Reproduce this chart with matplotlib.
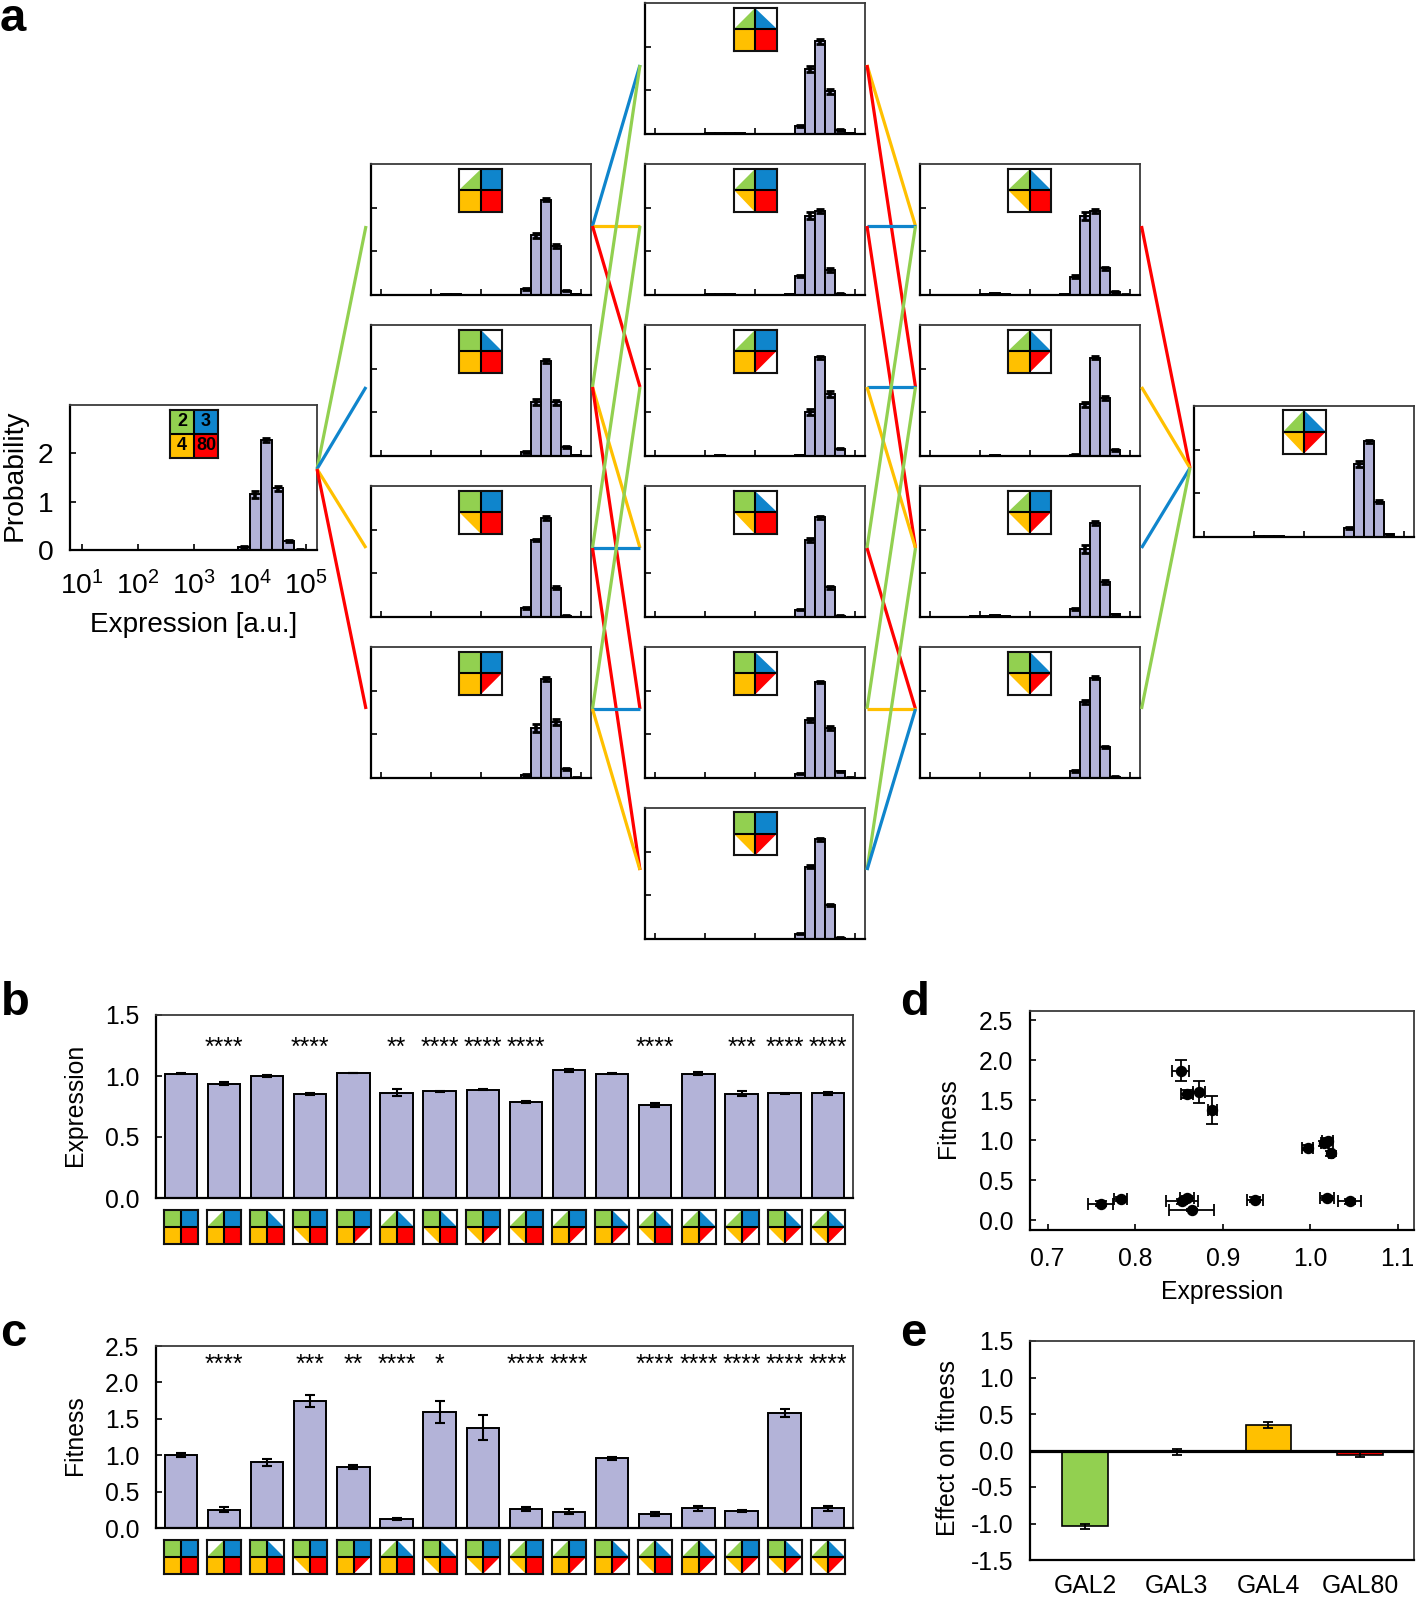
import matplotlib
matplotlib.use('Agg')
import matplotlib.pyplot as plt
from matplotlib.lines import Line2D
from matplotlib.patches import Polygon
import numpy as np

plt.rcParams['font.family'] = ['Liberation Sans', 'DejaVu Sans']
plt.rcParams['mathtext.default'] = 'regular'

W, H = 1418, 1598
GREEN, BLUE, YELLOW, RED = '#92D050', '#0F85CC', '#FFC000', '#FF0000'
BAR = '#B3B3D8'
FS = 17.8

# ---------- data ----------
BIN_CENTRES = [1.9, 2.1, 2.3, 2.5, 2.7, 2.9, 3.7, 3.9, 4.1, 4.3, 4.5, 4.7, 4.9]

h_wt  = [0, .003, .005, .005, .003, 0, 0, .06, 1.15, 2.27, 1.27, .19, .01]
e_wt  = [0, 0, 0, 0, 0, 0, 0, .015, .07, .04, .05, .02, .005]

h_c1 = [
    [0, .005, .015, .02, .01, .003, .01, .14, 1.37, 2.18, 1.12, .10, .015],
    [.003, .01, .01, .01, .005, .003, .003, .09, 1.23, 2.17, 1.23, .20, .015],
    [.003, .005, .005, .003, 0, 0, 0, .20, 1.76, 2.27, .67, .03, 0],
    [.003, .005, .005, .005, .003, 0, 0, .07, 1.14, 2.27, 1.28, .20, .01],
]
e_c1 = [
    [0, 0, 0, 0, 0, 0, 0, .02, .06, .03, .05, .015, .005],
    [0, 0, 0, 0, 0, 0, 0, .015, .07, .05, .06, .02, .005],
    [0, 0, 0, 0, 0, 0, 0, .02, .03, .04, .03, .01, 0],
    [0, 0, 0, 0, 0, 0, 0, .015, .09, .04, .07, .025, .005],
]
h_c2 = [
    [.01, .02, .03, .03, .012, .005, .01, .19, 1.48, 2.12, .98, .09, .02],
    [.01, .02, .025, .02, .01, .003, .03, .43, 1.82, 1.92, .57, .03, .005],
    [.005, .01, .015, .01, .005, 0, 0, .02, 1.01, 2.26, 1.41, .17, .01],
    [.003, .005, .005, .003, 0, 0, 0, .17, 1.76, 2.28, .68, .03, .003],
    [.003, .005, .005, .003, 0, 0, 0, .10, 1.33, 2.20, 1.15, .15, .01],
    [.003, .005, .005, .003, 0, 0, 0, .125, 1.66, 2.28, .78, .03, .003],
]
e_c2 = [
    [0, 0, 0, 0, 0, 0, 0, .025, .07, .05, .06, .02, .005],
    [0, 0, 0, 0, 0, 0, 0, .02, .07, .04, .04, .01, 0],
    [0, 0, 0, 0, 0, 0, 0, .01, .07, .03, .07, .02, 0],
    [0, 0, 0, 0, 0, 0, 0, .02, .04, .04, .03, .01, 0],
    [0, 0, 0, 0, 0, 0, 0, .015, .05, .03, .05, .02, .005],
    [0, 0, 0, 0, 0, 0, 0, .015, .03, .03, .03, .01, 0],
]
h_c3 = [
    [.01, .03, .04, .03, .01, .005, .02, .42, 1.80, 1.92, .61, .07, .01],
    [.005, .01, .015, .01, .005, 0, .003, .03, 1.18, 2.25, 1.33, .13, .005],
    [.02, .03, .05, .03, .01, .005, .005, .18, 1.56, 2.15, .80, .06, .005],
    [.003, .005, .005, .005, .003, 0, 0, .16, 1.74, 2.30, .71, .03, .003],
]
e_c3 = [
    [0, 0, 0, 0, 0, 0, 0, .03, .09, .05, .04, .02, .005],
    [0, 0, 0, 0, 0, 0, 0, .01, .06, .04, .05, .02, 0],
    [0, 0, 0, 0, 0, 0, 0, .03, .09, .05, .05, .015, .005],
    [0, 0, 0, 0, 0, 0, 0, .02, .04, .04, .03, .01, 0],
]
h_last = [.01, .015, .02, .015, .01, 0, .005, .20, 1.67, 2.19, .81, .07, .005]
e_last = [0, 0, 0, 0, 0, 0, 0, .02, .06, .04, .03, .01, 0]

# Which quadrants of the icon are half filled: 0=GAL2, 1=GAL3, 2=GAL4, 3=GAL80
icons_c1 = [[0], [1], [2], [3]]
icons_c2 = [[0, 1], [0, 2], [0, 3], [1, 2], [1, 3], [2, 3]]
icons_c3 = [[0, 1, 2], [0, 1, 3], [0, 2, 3], [1, 2, 3]]
icons_last = [0, 1, 2, 3]
icons_bars = [[], [0], [1], [2], [3], [0, 1], [1, 2], [2, 3], [0, 2], [0, 3], [1, 3],
              [0, 1, 2], [0, 1, 3], [0, 2, 3], [1, 2, 3], [0, 1, 2, 3]]

edges_wt_c1 = [(0, GREEN), (1, BLUE), (2, YELLOW), (3, RED)]
edges_c1_c2 = [(0, 0, BLUE), (0, 1, YELLOW), (0, 2, RED),
               (1, 0, GREEN), (1, 3, YELLOW), (1, 4, RED),
               (2, 1, GREEN), (2, 3, BLUE), (2, 5, RED),
               (3, 2, GREEN), (3, 4, BLUE), (3, 5, YELLOW)]
edges_c2_c3 = [(0, 0, YELLOW), (0, 1, RED), (1, 0, BLUE), (1, 2, RED),
               (2, 1, BLUE), (2, 2, YELLOW), (3, 0, GREEN), (3, 3, RED),
               (4, 1, GREEN), (4, 3, YELLOW), (5, 2, GREEN), (5, 3, BLUE)]
edges_c3_last = [(0, RED), (1, YELLOW), (2, BLUE), (3, GREEN)]

expr_vals = [1.02, .938, .998, .854, 1.025, .864, .873, .889, .783, 1.047, 1.017, .761, 1.02, .854, .859, .859]
expr_errs = [.005, .01, .008, .01, .003, .03, .008, .004, .008, .012, .004, .016, .01, .02, .004, .012]
expr_stars = ['', '****', '', '****', '', '**', '****', '****', '****', '', '', '****', '', '***', '****', '****']

fit_vals = [1.0, .25, .90, 1.745, .835, .12, 1.594, 1.38, .26, .223, .956, .196, .27, .228, 1.58, .273]
fit_errs = [.025, .035, .05, .08, .03, .012, .145, .17, .03, .035, .025, .03, .03, .015, .055, .035]
fit_stars = ['', '****', '', '***', '**', '****', '*', '', '****', '****', '', '****', '****', '****', '****', '****']

d_x    = [.852, .873, .859, .888, .997, 1.02, 1.016, 1.024, .7606, .7834, .8535, .859, .8646, .9373, 1.0196, 1.045]
d_xerr = [.0095, .0067, .007, .005, .0067, .006, .004, .002, .014, .0075, .018, .008, .0255, .009, .008, .0127]
d_y    = [1.867, 1.6, 1.58, 1.38, .904, .99, .96, .833, .204, .2625, .233, .275, .125, .254, .275, .233]
d_yerr = [.135, .14, .05, .175, .03, .03, .03, .03, .03, .03, .03, .03, .012, .03, .03, .03]

genes = ['GAL2', 'GAL3', 'GAL4', 'GAL80']
effect_vals = [-1.04, -.02, .35, -.055]
effect_errs = [.04, .035, .035, .03]
effect_cols = [GREEN, BLUE, YELLOW, RED]

# ---------- helpers ----------
fig = plt.figure(figsize=(W / 100, H / 100), dpi=100, facecolor='white')


def axes_px(x0, y0, x1, y1, **kw):
    return fig.add_axes([x0 / W, 1 - y1 / H, (x1 - x0) / W, (y1 - y0) / H], **kw)


def style(ax, lw=1.6):
    for s in ax.spines.values():
        s.set_linewidth(1.3)
        s.set_edgecolor('#3a3a3a')
    for s in ('left', 'bottom'):
        ax.spines[s].set_linewidth(lw)
        ax.spines[s].set_edgecolor('black')


def icon(x0, y0, size, half, labels=False):
    a = axes_px(x0, y0, x0 + size, y0 + size)
    a.set_xlim(0, 2)
    a.set_ylim(0, 2)
    a.set_xticks([])
    a.set_yticks([])
    for s in a.spines.values():
        s.set_linewidth(1.5)
        s.set_edgecolor('#111111')
        s.set_zorder(5)
    full = [[(0, 1), (1, 1), (1, 2), (0, 2)], [(1, 1), (2, 1), (2, 2), (1, 2)],
            [(0, 0), (1, 0), (1, 1), (0, 1)], [(1, 0), (2, 0), (2, 1), (1, 1)]]
    tri = [[(0, 1), (1, 1), (1, 2)], [(1, 2), (1, 1), (2, 1)],
           [(0, 1), (1, 1), (1, 0)], [(1, 1), (2, 1), (1, 0)]]
    cols = [GREEN, BLUE, YELLOW, RED]
    for q in range(4):
        a.add_patch(Polygon(tri[q] if q in half else full[q], closed=True, fc=cols[q], ec='none'))
    a.axhline(1, color='black', lw=1.5, zorder=4)
    a.axvline(1, color='black', lw=1.5, zorder=4)
    if labels:
        for (tx, ty), s in zip([(.5, 1.5), (1.5, 1.5), (.5, .5), (1.5, .5)], ['2', '3', '4', '80']):
            a.text(tx, ty, s, ha='center', va='center', fontsize=13, fontweight='bold', color='black')
    return a


def draw_hist(ax, vals, errs):
    c = np.array(BIN_CENTRES)
    lo, hi = 10 ** (c - .1), 10 ** (c + .1)
    ax.set_xscale('log')
    ax.bar(lo, vals, width=hi - lo, align='edge', color=BAR, edgecolor='black', linewidth=1.4)
    v, e = np.array(vals), np.array(errs)
    m = e > 0
    ax.errorbar(10 ** c[m], v[m], yerr=e[m], fmt='none', ecolor='black', elinewidth=2.6,
                capsize=2.8, capthick=2.0)
    ax.set_xticks([10, 100, 1000, 10000, 100000])
    ax.minorticks_off()


def hist_panel(x0, y0, x1, y1, vals, errs):
    ax = axes_px(x0, y0, x1, y1)
    draw_hist(ax, vals, errs)
    ax.set_xlim(10 ** .8, 10 ** 5.2)
    ax.set_ylim(0, 3)
    ax.set_yticks([1, 2])
    ax.tick_params(direction='in', length=4, width=1.2, labelbottom=False, labelleft=False)
    style(ax)
    return ax


def connect(p, q, col):
    fig.add_artist(Line2D([p[0] / W, q[0] / W], [1 - p[1] / H, 1 - q[1] / H], color=col, lw=2.3,
                          transform=fig.transFigure, solid_capstyle='butt'))


# ---------- panel a ----------
COLS = {'c1': (370.7, 590.7), 'c2': (645, 865.2), 'c3': (919.5, 1140), 'last': (1194, 1414)}
PH = 131
ROW = 161
top_c13 = 164
top_c2 = 3
top_last = 406
MID = 62

ax_wt = axes_px(70, 405, 316.5, 550)
draw_hist(ax_wt, h_wt, e_wt)
ax_wt.set_xlim(10 ** .786, 10 ** 5.196)
ax_wt.set_ylim(0, 2.99)
ax_wt.set_xticklabels([r'$10^{%d}$' % i for i in range(1, 6)])
ax_wt.set_yticks([0, 1, 2])
ax_wt.tick_params(axis='y', direction='in', length=4, width=1.2, labelsize=20.3, pad=12)
ax_wt.tick_params(axis='x', direction='in', length=4, width=1.2, labelsize=20.3, pad=15)
style(ax_wt)
ax_wt.set_ylabel('Probability', fontsize=20.3)
ax_wt.yaxis.set_label_coords((15 - 70) / 247, .515)
ax_wt.set_xlabel('Expression [a.u.]', fontsize=20.1)
ax_wt.xaxis.set_label_coords((193.5 - 70) / 247, -(625 - 550) / 145)
ax_wt.xaxis.label.set_va('center')
ax_wt.yaxis.label.set_va('center')
icon(170, 410, 48, [], labels=True)

for col, t0, hs, es, ics in (('c1', top_c13, h_c1, e_c1, icons_c1), ('c2', top_c2, h_c2, e_c2, icons_c2),
                             ('c3', top_c13, h_c3, e_c3, icons_c3)):
    x0, x1 = COLS[col]
    for i, (hv, ev, ic) in enumerate(zip(hs, es, ics)):
        y0 = t0 + i * ROW
        hist_panel(x0, y0, x1, y0 + PH, hv, ev)
        icon((x0 + x1) / 2 - 21.5, y0 + 4.5, 43, ic)
x0, x1 = COLS['last']
hist_panel(x0, top_last, x1, top_last + PH, h_last, e_last)
icon((x0 + x1) / 2 - 21.5, top_last + 4.5, 43, icons_last)

for i, col in edges_wt_c1:
    connect((317, 469), (366, top_c13 + i * ROW + MID), col)
for i, j, col in edges_c1_c2:
    connect((592.5, top_c13 + i * ROW + MID), (640, top_c2 + j * ROW + MID), col)
for i, j, col in edges_c2_c3:
    connect((867, top_c2 + i * ROW + MID), (915.5, top_c13 + j * ROW + MID), col)
for i, col in edges_c3_last:
    connect((1141.5, top_c13 + i * ROW + MID), (1190, top_last + MID), col)


# ---------- panels b, c ----------
def bar_panel(y0, y1, vals, errs, stars, star_y, ymax, yticks, fmt, label, icon_y):
    ax = axes_px(155.7, y0, 853, y1)
    x = np.arange(len(vals))
    ax.bar(x, vals, width=.75, color=BAR, edgecolor='black', linewidth=1.4)
    ax.errorbar(x, vals, yerr=errs, fmt='none', ecolor='black', elinewidth=1.5, capsize=3.6, capthick=1.5)
    ax.set_xlim(-.585, 15.585)
    ax.set_ylim(0, ymax)
    ax.set_xticks([])
    ax.set_yticks(yticks)
    ax.set_yticklabels([fmt % t for t in yticks])
    ax.tick_params(direction='in', length=4, width=1.2, labelsize=FS, pad=12)
    style(ax)
    ax.set_ylabel(label, fontsize=FS)
    ax.yaxis.set_label_coords((75 - 155.7) / (853 - 155.7), .508)
    ax.yaxis.label.set_va('center')
    for xi, s in zip(x, stars):
        if s:
            ax.text(xi, star_y, s, ha='center', va='center', fontsize=17.8, color='black')
    for xi, half in zip(x, icons_bars):
        cx = 181 + xi * 43.13
        icon(cx - 17, icon_y, 34, half)
    return ax


bar_panel(1015, 1198, expr_vals, expr_errs, expr_stars, 1.23, 1.5, [0, .5, 1, 1.5], '%.1f', 'Expression', 1209.5)
bar_panel(1346, 1528, fit_vals, fit_errs, fit_stars, 2.24, 2.5, [0, .5, 1, 1.5, 2, 2.5], '%.1f', 'Fitness', 1540)

# ---------- panel d ----------
axd = axes_px(1030, 1010.7, 1414.3, 1230)
axd.errorbar(d_x, d_y, xerr=d_xerr, yerr=d_yerr, fmt='o', color='black', ms=7.2, elinewidth=1.3,
             capsize=4, capthick=1.3)
axd.set_xlim(.6798, 1.119)
axd.set_ylim(-.125, 2.617)
axd.set_xticks([.7, .8, .9, 1.0, 1.1])
axd.set_xticklabels(['0.7', '0.8', '0.9', '1.0', '1.1'])
axd.set_yticks([0, .5, 1, 1.5, 2, 2.5])
axd.set_yticklabels(['0.0', '0.5', '1.0', '1.5', '2.0', '2.5'])
axd.tick_params(direction='in', length=4, width=1.2, labelsize=FS, pad=12)
style(axd)
axd.set_xlabel('Expression', fontsize=FS)
axd.xaxis.set_label_coords(.5, -(1292 - 1230) / 219.3)
axd.xaxis.label.set_va('center')
axd.set_ylabel('Fitness', fontsize=FS)
axd.yaxis.set_label_coords((948 - 1030) / 384.3, .51)
axd.yaxis.label.set_va('center')

# ---------- panel e ----------
axe = axes_px(1030, 1341, 1414.3, 1560)
xe = np.arange(len(genes))
axe.bar(xe, effect_vals, width=.5, color=effect_cols, edgecolor='black', linewidth=1.2)
axe.errorbar(xe, effect_vals, yerr=effect_errs, fmt='none', ecolor='black', elinewidth=1.3,
             capsize=3.6, capthick=1.3)
axe.axhline(0, color='black', lw=2.3, zorder=5)
axe.set_xlim(-.6, 3.59)
axe.set_ylim(-1.5, 1.5)
axe.set_xticks(xe)
axe.set_xticklabels(genes)
axe.set_yticks([-1.5, -1, -.5, 0, .5, 1, 1.5])
axe.set_yticklabels(['-1.5', '-1.0', '-0.5', '0.0', '0.5', '1.0', '1.5'])
axe.tick_params(axis='y', direction='in', length=4, width=1.2, labelsize=FS, pad=12)
axe.tick_params(axis='x', length=0, labelsize=FS, pad=10)
style(axe)
axe.set_ylabel('Effect on fitness', fontsize=FS)
axe.yaxis.set_label_coords((948 - 1030) / 384.3, .51)
axe.yaxis.label.set_va('center')

# ---------- panel letters ----------
for s, px, py in (('a', 0, 31), ('b', 1, 1015), ('c', 0, 1346), ('d', 900, 1015), ('e', 900, 1346)):
    fig.text(px / W, 1 - py / H, s, fontsize=34, fontweight='bold', ha='left', va='baseline', color='black')

fig.savefig('out.png', dpi=100, facecolor='white')
